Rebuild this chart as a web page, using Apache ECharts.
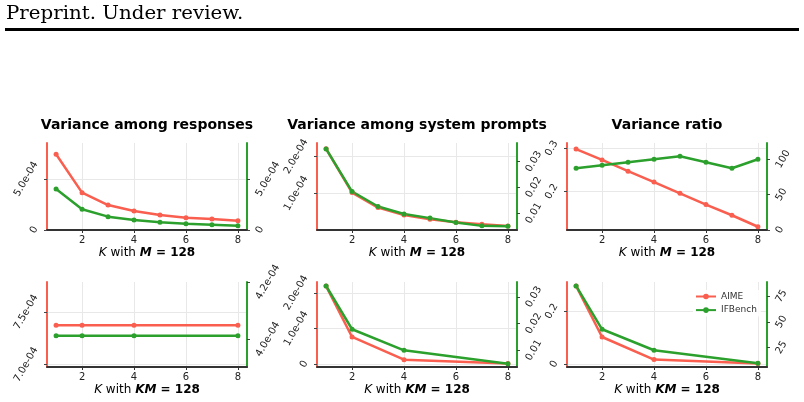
<!DOCTYPE html>
<html>
<head>
<meta charset="utf-8">
<script src="https://cdn.jsdelivr.net/npm/echarts@6/dist/echarts.min.js"></script>
<style>
  html, body { margin: 0; padding: 0; background: #fff; }
  #chart { width: 804px; height: 402px; }
</style>
</head>
<body>
<div id="chart"></div>
<script>
// K values on the x axes
const kTop = [1, 2, 3, 4, 5, 6, 7, 8];
const kBottom = [1, 2, 4, 8];
const xTicks = [2, 4, 6, 8];

// top row: K with M = 128
const respTopAime = [7.42e-4, 3.66e-4, 2.45e-4, 1.86e-4, 1.47e-4, 1.21e-4, 1.08e-4, 0.91e-4];
const respTopIfbench = [4.02e-4, 2.03e-4, 1.31e-4, 0.98e-4, 0.75e-4, 0.62e-4, 0.52e-4, 0.42e-4];
const sysTopAime = [2.21e-4, 1.02e-4, 0.61e-4, 0.41e-4, 0.29e-4, 0.21e-4, 0.155e-4, 0.11e-4];
const sysTopIfbench = [0.0349, 0.0184, 0.0126, 0.0097, 0.0081, 0.0064, 0.0051, 0.0050];
const ratioTopAime = [0.298, 0.273, 0.247, 0.222, 0.196, 0.170, 0.1455, 0.119];
const ratioTopIfbench = [87.3, 91.5, 95.8, 100, 104.2, 95.8, 87.3, 100];

// bottom row: K with KM = 128
const respBottomAime = [7.375e-4, 7.375e-4, 7.375e-4, 7.375e-4];
const respBottomIfbench = [4.012e-4, 4.012e-4, 4.012e-4, 4.012e-4];
const sysBottomAime = [2.19e-4, 0.765e-4, 0.13e-4, 0.02e-4];
const sysBottomIfbench = [0.0341, 0.0179, 0.0100, 0.0050];
const ratioBottomAime = [0.2955, 0.103, 0.0177, 0.0026];
const ratioBottomIfbench = [85, 42.8, 22.4, 9.7];

// y tick values
const respTopLeftTicks = [0, 5e-4];
const respTopRightTicks = [0, 5e-4];
const sysTopLeftTicks = [1e-4, 2e-4];
const sysTopRightTicks = [0.01, 0.02, 0.03];
const ratioTopLeftTicks = [0.2, 0.3];
const ratioTopRightTicks = [0, 50, 100];
const respBottomLeftTicks = [7.0e-4, 7.5e-4];
const respBottomRightTicks = [4.0e-4, 4.2e-4];
const sysBottomLeftTicks = [0, 1e-4, 2e-4];
const sysBottomRightTicks = [0.01, 0.02, 0.03];
const ratioBottomLeftTicks = [0, 0.2];
const ratioBottomRightTicks = [25, 50, 75];

const titles = ['Variance among responses', 'Variance among system prompts', 'Variance ratio'];
const seriesNames = ['AIME', 'IFBench'];

const FONT = 'DejaVu Sans';
const RED = '#f95e4f';
const GREEN = '#2ca02c';
const GRID_COLOR = '#e8e8e8';
const LABEL_SIZE = 10;
const ROT = 60;

function sci(v) {
  if (v === 0) return '0';
  return v.toExponential(1).replace(/e([+-])(\d)$/, (m, a, b) => 'e' + a + '0' + b);
}
function plain(v) {
  return String(+v.toFixed(4));
}

// rotated y labels placed like matplotlib: bbox edge at fixed gap, centred on the tick
const measure = document.createElement('canvas').getContext('2d');
function yLabels(ticks, fmt, side) {
  const rad = ROT * Math.PI / 180;
  measure.font = LABEL_SIZE + 'px "' + FONT + '"';
  const strs = ticks.map(fmt);
  const ws = strs.map(s => measure.measureText(s).width * Math.cos(rad) + LABEL_SIZE * Math.sin(rad));
  const wmax = Math.max(...ws);
  const rich = {};
  strs.forEach((s, i) => {
    const a = (wmax - ws[i]) / 4;
    const b = 2 * a * Math.tan(rad);
    rich['t' + i] = {
      fontSize: LABEL_SIZE, fontFamily: FONT, color: '#222',
      padding: side === 'left' ? [b, 0, 0, 2 * a] : [0, 2 * a, b, 0]
    };
  });
  return {
    customValues: ticks,
    rotate: ROT,
    align: 'center',
    verticalAlign: 'middle',
    margin: 7 + wmax / 2,
    fontSize: LABEL_SIZE,
    fontFamily: FONT,
    color: '#222',
    formatter: (v) => {
      const i = ticks.findIndex(t => Math.abs(t - v) < 1e-12);
      return i < 0 ? '' : '{t' + i + '|' + strs[i] + '}';
    },
    rich
  };
}

const panels = [
  { left: 47, top: 143, height: 87, k: kTop, aime: respTopAime, ifb: respTopIfbench, m: 'M',
    lMin: 0, lMax: 8.53e-4, lTicks: respTopLeftTicks, lFmt: sci,
    rMin: 0, rMax: 8.53e-4, rTicks: respTopRightTicks, rFmt: sci },
  { left: 317, top: 143, height: 87, k: kTop, aime: sysTopAime, ifb: sysTopIfbench, m: 'M',
    lMin: 0, lMax: 2.37e-4, lTicks: sysTopLeftTicks, lFmt: sci,
    rMin: 0.0035, rMax: 0.0372, rTicks: sysTopRightTicks, rFmt: plain },
  { left: 567, top: 143, height: 87, k: kTop, aime: ratioTopAime, ifb: ratioTopIfbench, m: 'M',
    lMin: 0.1115, lMax: 0.312, lTicks: ratioTopLeftTicks, lFmt: plain,
    rMin: 0, rMax: 123, rTicks: ratioTopRightTicks, rFmt: plain },
  { left: 47, top: 282, height: 85, k: kBottom, aime: respBottomAime, ifb: respBottomIfbench, m: 'KM',
    lMin: 6.977e-4, lMax: 7.785e-4, lTicks: respBottomLeftTicks, lFmt: sci,
    rMin: 3.903e-4, rMax: 4.2e-4, rTicks: respBottomRightTicks, rFmt: sci },
  { left: 317, top: 282, height: 85, k: kBottom, aime: sysBottomAime, ifb: sysBottomIfbench, m: 'KM',
    lMin: -0.076e-4, lMax: 2.305e-4, lTicks: sysBottomLeftTicks, lFmt: sci,
    rMin: 0.00375, rMax: 0.0356, rTicks: sysBottomRightTicks, rFmt: plain },
  { left: 567, top: 282, height: 85, k: kBottom, aime: ratioBottomAime, ifb: ratioBottomIfbench, m: 'KM',
    lMin: -0.0102, lMax: 0.3106, lTicks: ratioBottomLeftTicks, lFmt: plain,
    rMin: 6.1, rMax: 88.8, rTicks: ratioBottomRightTicks, rFmt: plain }
];

const grid = [], xAxis = [], yAxis = [], series = [];
panels.forEach((p, i) => {
  grid.push({ left: p.left, top: p.top, width: 200, height: p.height, outerBoundsMode: 'none' });
  xAxis.push({
    type: 'value', gridIndex: i, min: 0.65, max: 8.35,
    axisLine: { onZero: false, lineStyle: { color: '#333', width: 2 } },
    axisTick: { customValues: xTicks, length: 3, lineStyle: { color: '#333' } },
    axisLabel: { customValues: xTicks, fontSize: LABEL_SIZE, fontFamily: FONT, color: '#222', margin: 5 },
    splitLine: { show: true, lineStyle: { color: GRID_COLOR, width: 1 } },
    name: '{i|K}{n| with }{bi|' + p.m + '}{b| = 128}',
    nameLocation: 'middle',
    nameGap: 17,
    nameTextStyle: {
      rich: {
        i: { fontSize: 12, fontFamily: FONT, fontStyle: 'italic', color: '#000' },
        n: { fontSize: 12, fontFamily: FONT, color: '#000' },
        bi: { fontSize: 12, fontFamily: FONT, fontStyle: 'italic', fontWeight: 'bold', color: '#000' },
        b: { fontSize: 12, fontFamily: FONT, fontWeight: 'bold', color: '#000' }
      }
    }
  });
  yAxis.push({
    type: 'value', gridIndex: i, position: 'left', min: p.lMin, max: p.lMax,
    axisLine: { show: true, onZero: false, lineStyle: { color: RED, width: 2 } },
    axisTick: { show: true, customValues: p.lTicks, length: 3, lineStyle: { color: '#444' } },
    axisLabel: yLabels(p.lTicks, p.lFmt, 'left'),
    splitLine: { show: true, lineStyle: { color: GRID_COLOR, width: 1 } }
  });
  yAxis.push({
    type: 'value', gridIndex: i, position: 'right', min: p.rMin, max: p.rMax,
    axisLine: { show: true, onZero: false, lineStyle: { color: GREEN, width: 2 } },
    axisTick: { show: true, customValues: p.rTicks, length: 3, lineStyle: { color: '#444' } },
    axisLabel: yLabels(p.rTicks, p.rFmt, 'right'),
    splitLine: { show: false }
  });
  series.push({
    name: seriesNames[0], type: 'line', xAxisIndex: i, yAxisIndex: 2 * i,
    data: p.k.map((k, j) => [k, p.aime[j]]),
    symbol: 'circle', symbolSize: 5,
    lineStyle: { color: RED, width: 2.5 }, itemStyle: { color: RED }
  });
  series.push({
    name: seriesNames[1], type: 'line', xAxisIndex: i, yAxisIndex: 2 * i + 1,
    data: p.k.map((k, j) => [k, p.ifb[j]]),
    symbol: 'circle', symbolSize: 5,
    lineStyle: { color: GREEN, width: 2.5 }, itemStyle: { color: GREEN }
  });
});

const chart = echarts.init(document.getElementById('chart'));
const option = {
  animation: false,
  backgroundColor: '#fff',
  title: titles.map((t, i) => ({
    text: t,
    left: panels[i].left + 100,
    top: 118,
    textAlign: 'center',
    padding: 0,
    textStyle: { fontSize: 14, fontWeight: 'bold', fontFamily: FONT, color: '#000' }
  })),
  legend: {
    data: seriesNames,
    orient: 'vertical',
    left: 693,
    top: 290,
    itemWidth: 20,
    itemHeight: 7,
    itemGap: 4.6,
    padding: [2, 4, 2, 2],
    backgroundColor: 'rgba(255,255,255,0.85)',
    textStyle: { fontSize: 9, fontFamily: FONT, color: '#333' }
  },
  graphic: [
    {
      type: 'text', left: 6, top: 5,
      style: { text: 'Preprint. Under review.', font: '18px "DejaVu Serif"', fill: '#000' },
      scaleX: 1.1
    },
    {
      type: 'rect', shape: { x: 5, y: 28, width: 794, height: 3 },
      style: { fill: '#000' }
    }
  ],
  grid,
  xAxis,
  yAxis,
  series
};
chart.setOption(option);
</script>
</body>
</html>
